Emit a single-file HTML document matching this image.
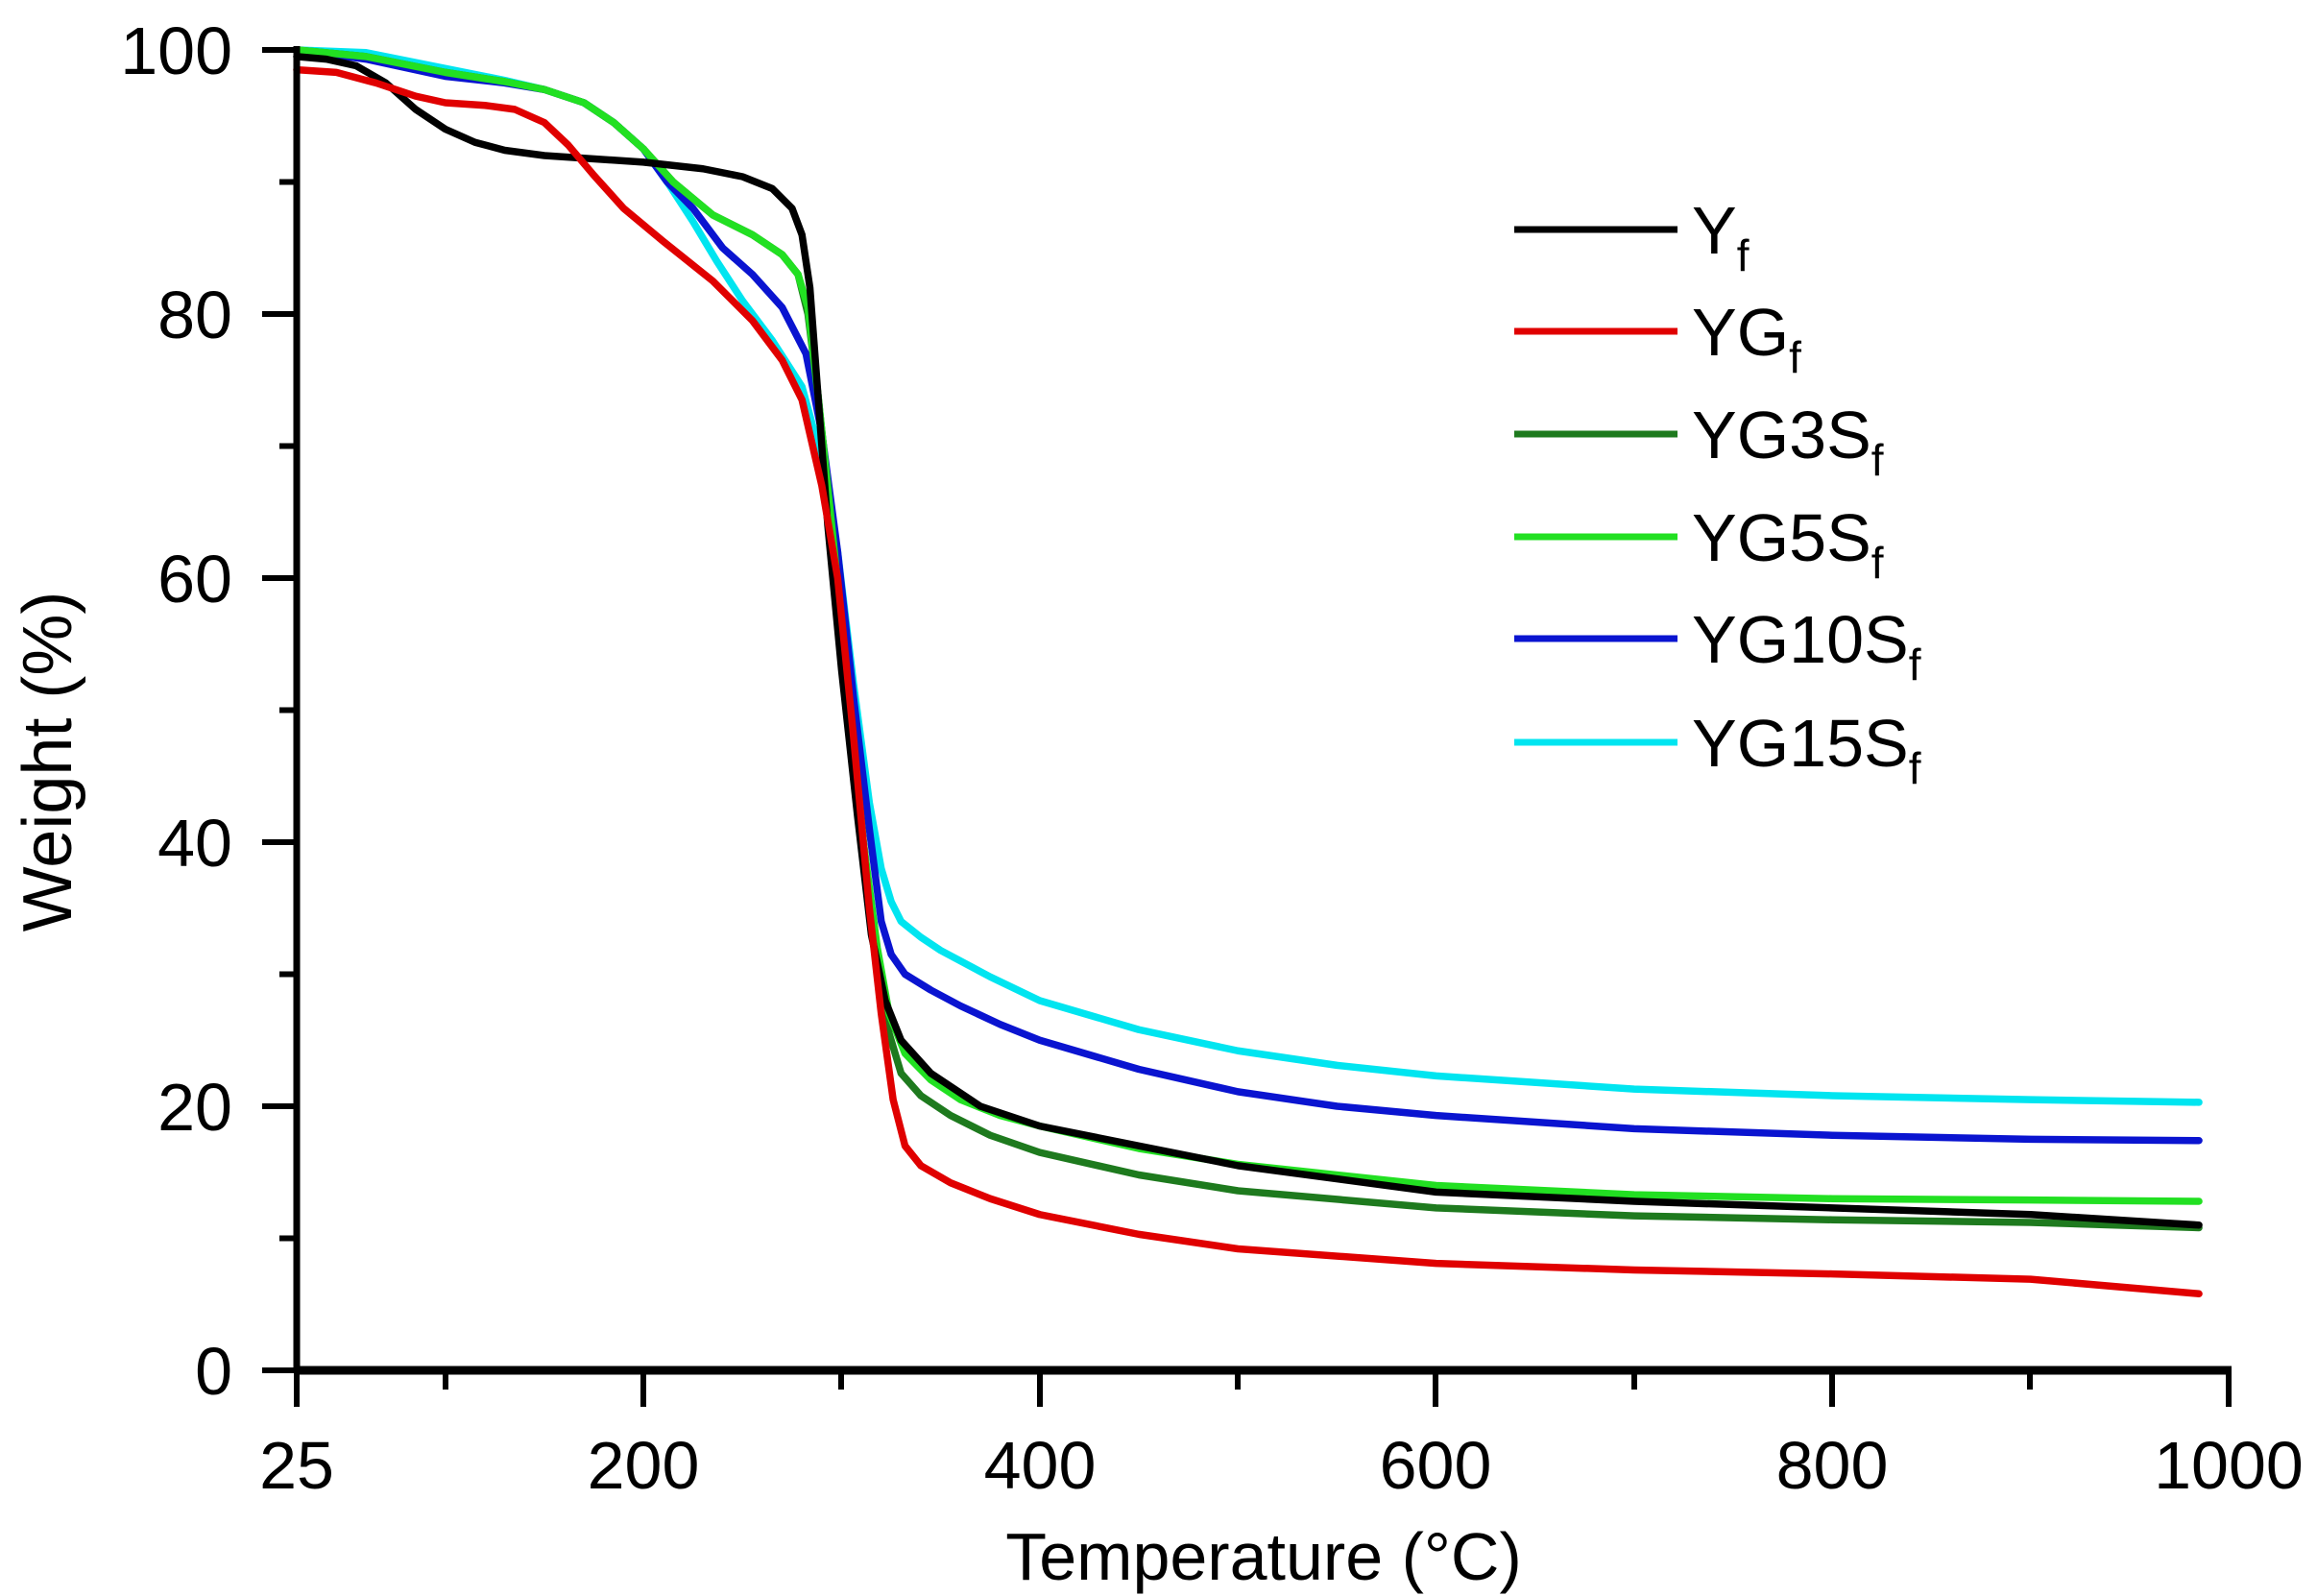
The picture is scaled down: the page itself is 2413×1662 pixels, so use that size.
<!DOCTYPE html>
<html><head><meta charset="utf-8"><style>
html,body{margin:0;padding:0;background:#fff;}
svg{display:block;}
text{font-family:"Liberation Sans",Arial,sans-serif;fill:#000;}
</style></head><body>
<svg width="2413" height="1662" viewBox="0 0 2413 1662" xmlns="http://www.w3.org/2000/svg">
<rect width="2413" height="1662" fill="#fff"/>
<g transform="translate(257.41,1427) scale(2.0636,-13.75)" fill="none" stroke-width="7.5" stroke-linejoin="round" stroke-linecap="round">
<polyline vector-effect="non-scaling-stroke" stroke="#00e5f0" points="25,100 60,99.8 100,98.6 130,97.7 150,97 170,96 185,94.5 200,92.5 212,90 225,87 237,84 250,81 265,78 280,74.5 290,69 298,62 306,52 314,43 320,38 325,35.5 330,34 340,32.8 350,31.8 375,29.8 400,28 450,25.8 500,24.2 550,23.1 600,22.3 700,21.3 800,20.8 900,20.5 985,20.3"/>
<polyline vector-effect="non-scaling-stroke" stroke="#0a14d0" points="25,100 60,99.3 100,98 130,97.5 150,97 170,96 185,94.5 200,92.5 212,90 225,88 240,85 255,83 270,80.5 282,77 290,71 298,62 306,51 314,41 320,34 325,31.5 332,30 345,28.8 360,27.6 380,26.2 400,25 450,22.8 500,21.1 550,20 600,19.3 700,18.3 800,17.8 900,17.5 985,17.4"/>
<polyline vector-effect="non-scaling-stroke" stroke="#1e7a1e" points="25,100 60,99.5 100,98.3 130,97.6 150,97 170,96 185,94.5 200,92.5 215,90 235,87.5 255,86 270,84.5 278,83 283,80 288,74 295,64 303,52 311,40 318,31 324,25.5 330,22.5 340,20.8 355,19.3 375,17.8 400,16.5 450,14.8 500,13.6 600,12.3 700,11.7 800,11.4 900,11.2 985,10.8"/>
<polyline vector-effect="non-scaling-stroke" stroke="#22e022" points="25,100 60,99.5 100,98.3 130,97.6 150,97 170,96 185,94.5 200,92.5 215,90 235,87.5 255,86 270,84.5 278,83 283,80.5 288,74 295,64 303,52 311,40 318,32 324,27 332,24 345,22 360,20.5 380,19.3 400,18.5 450,16.8 500,15.6 600,14 700,13.3 800,13 900,12.9 985,12.8"/>
<polyline vector-effect="non-scaling-stroke" stroke="#000" points="25,99.5 40,99.3 55,98.8 70,97.5 85,95.5 100,94 115,93 130,92.4 150,92 200,91.5 230,91 250,90.4 265,89.5 275,88 280,86 284,82 288,74 293,64 300,53 308,42 315,33 322,28 330,25 345,22.5 370,20 400,18.5 450,17 500,15.5 600,13.5 700,12.8 800,12.3 900,11.8 985,11"/>
<polyline vector-effect="non-scaling-stroke" stroke="#e00000" points="25,98.5 45,98.3 65,97.5 85,96.5 100,96 120,95.8 135,95.5 150,94.5 162,92.8 175,90.5 190,88 210,85.5 235,82.5 255,79.5 270,76.5 280,73.5 290,67 298,60 306,48 314,35 320,27 326,20.5 332,17 340,15.5 355,14.2 375,13 400,11.8 450,10.3 500,9.2 600,8.1 700,7.6 800,7.3 900,6.9 985,5.8"/>
</g>
<line x1="309" y1="48" x2="309" y2="1430" stroke="#000" stroke-width="7"/>
<line x1="306" y1="1427" x2="2324" y2="1427" stroke="#000" stroke-width="9"/>
<g stroke="#000" stroke-width="6">
<line x1="273" y1="52" x2="309" y2="52"/><line x1="273" y1="327" x2="309" y2="327"/><line x1="273" y1="602" x2="309" y2="602"/><line x1="273" y1="877" x2="309" y2="877"/><line x1="273" y1="1152" x2="309" y2="1152"/><line x1="273" y1="1427" x2="309" y2="1427"/>
<line x1="291" y1="189.5" x2="309" y2="189.5"/><line x1="291" y1="464.5" x2="309" y2="464.5"/><line x1="291" y1="739.5" x2="309" y2="739.5"/><line x1="291" y1="1014.5" x2="309" y2="1014.5"/><line x1="291" y1="1289.5" x2="309" y2="1289.5"/>
<line x1="309" y1="1427" x2="309" y2="1465"/><line x1="670" y1="1427" x2="670" y2="1465"/><line x1="1083" y1="1427" x2="1083" y2="1465"/><line x1="1495" y1="1427" x2="1495" y2="1465"/><line x1="1908" y1="1427" x2="1908" y2="1465"/><line x1="2321" y1="1427" x2="2321" y2="1465"/>
<line x1="464" y1="1427" x2="464" y2="1447"/><line x1="876" y1="1427" x2="876" y2="1447"/><line x1="1289" y1="1427" x2="1289" y2="1447"/><line x1="1702" y1="1427" x2="1702" y2="1447"/><line x1="2114" y1="1427" x2="2114" y2="1447"/>
</g>
<g font-size="70" text-anchor="end">
<text x="242" y="77">100</text><text x="242" y="352">80</text><text x="242" y="627">60</text><text x="242" y="902">40</text><text x="242" y="1177">20</text><text x="242" y="1452">0</text>
</g>
<g font-size="70" text-anchor="middle">
<text x="309" y="1550">25</text><text x="670" y="1550">200</text><text x="1083" y="1550">400</text><text x="1495" y="1550">600</text><text x="1908" y="1550">800</text><text x="2321" y="1550">1000</text>
<text x="1316" y="1645">Temperature (°C)</text>
<text transform="translate(74,793) rotate(-90)" font-size="72">Weight (%)</text>
</g>
<g stroke-width="7">
<line x1="1577" y1="239" x2="1747" y2="239" stroke="#000"/>
<line x1="1577" y1="345" x2="1747" y2="345" stroke="#e00000"/>
<line x1="1577" y1="452" x2="1747" y2="452" stroke="#1e7a1e"/>
<line x1="1577" y1="559" x2="1747" y2="559" stroke="#22e022"/>
<line x1="1577" y1="665" x2="1747" y2="665" stroke="#0a14d0"/>
<line x1="1577" y1="773" x2="1747" y2="773" stroke="#00e5f0"/>
</g>
<g font-size="70">
<text x="1762" y="264">Y<tspan font-size="46" dy="18">f</tspan></text>
<text x="1762" y="370">YG<tspan font-size="46" dy="18">f</tspan></text>
<text x="1762" y="477">YG3S<tspan font-size="46" dy="18">f</tspan></text>
<text x="1762" y="584">YG5S<tspan font-size="46" dy="18">f</tspan></text>
<text x="1762" y="690">YG10S<tspan font-size="46" dy="18">f</tspan></text>
<text x="1762" y="798">YG15S<tspan font-size="46" dy="18">f</tspan></text>
</g>
</svg>
</body></html>
